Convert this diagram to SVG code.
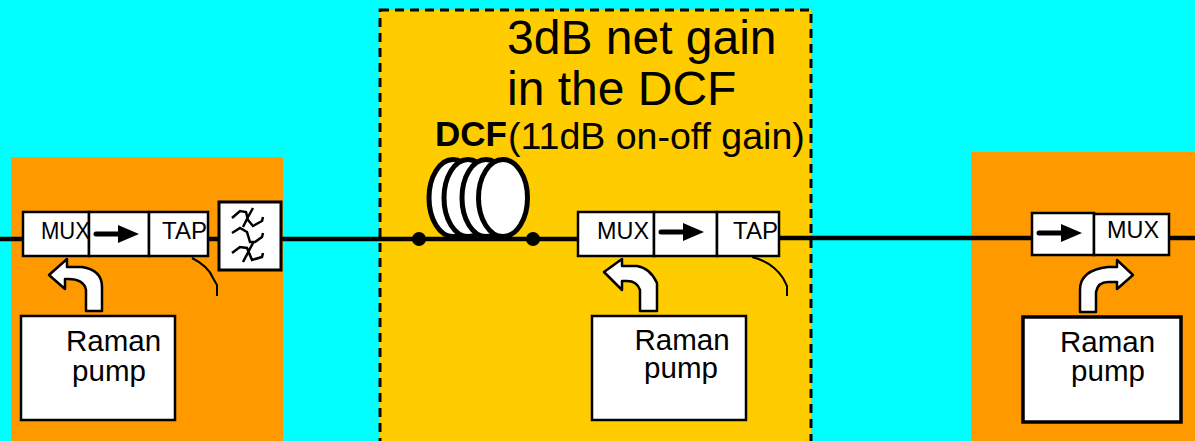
<svg xmlns="http://www.w3.org/2000/svg" width="1195" height="441" viewBox="0 0 1195 441">
<defs>
<g id="arrow"><path d="M0 0H24" fill="none" stroke="#000" stroke-width="5" stroke-linecap="round"/><path d="M22 -9 L43 0 L22 9 Z" fill="#000"/></g>
</defs>
<style>
text{font-family:"Liberation Sans",Arial,sans-serif;fill:#000}
.box{fill:#fff;stroke:#000;stroke-width:2.5}
.pump{fill:#fff;stroke:#000;stroke-width:2.5}
.bent{fill:#fff;stroke:#000;stroke-width:2.5;stroke-linejoin:round}
.lab{font-size:24px}
.pumpt{font-size:29.5px;text-anchor:middle}
.big{font-size:48px}
.thin{fill:none;stroke:#000;stroke-width:2}
</style>
<rect width="1195" height="441" fill="#00ffff"/>
<rect id="left-stage" x="11" y="157" width="272" height="284" fill="#ff9900"/>
<rect id="right-stage" x="971" y="152" width="224" height="289" fill="#ff9900"/>
<rect id="dcf-stage" x="380" y="10" width="431" height="440" fill="#ffcc00" stroke="#000" stroke-width="3" stroke-dasharray="9 6"/>
<g id="connectors" fill="none" stroke="#000" stroke-width="4.5">
<path d="M0 239H24"/><path d="M207 239H220"/><path d="M280 239H578"/>
<path d="M778 238H1032"/><path d="M1168 238H1195"/>
</g>
<g id="title"><text class="big" x="507" y="54">3dB net gain</text><text class="big" x="507" y="105">in the DCF</text></g>
<g id="dcf-label"><text x="435" y="146" font-size="35" font-weight="bold">DCF</text><text x="508" y="149" font-size="37.5">(11dB on-off gain)</text></g>
<g id="coil" fill="#fff" stroke="#000" stroke-width="5">
<ellipse cx="453" cy="198" rx="24" ry="38.500"/><ellipse cx="468" cy="198" rx="24" ry="38.500"/><ellipse cx="486" cy="198" rx="24" ry="38.500"/><ellipse cx="503" cy="198" rx="24.500" ry="38.500"/>
<circle cx="419" cy="239" r="7" fill="#000" stroke="none"/><circle cx="533" cy="239" r="7" fill="#000" stroke="none"/>
</g>
<g id="left-mux-iso-tap">
<rect class="box" x="23" y="212" width="66" height="44"/><rect class="box" x="89" y="212" width="60" height="44"/><rect class="box" x="149" y="212" width="59" height="44"/>
<text class="lab" x="41" y="239" textLength="49" lengthAdjust="spacingAndGlyphs">MUX</text><use href="#arrow" x="96" y="234"/><text class="lab" x="162" y="239" textLength="45" lengthAdjust="spacingAndGlyphs">TAP</text>
<path class="thin" d="M192 258 Q208 266 213 278 L217 285 L217 296"/>
</g>
<g id="filter">
<rect class="box" x="219" y="202" width="62" height="68" style="stroke-width:3"/>
<path d="M232 218 L240 211 L246 212 L248 220 L253 226 L262 221 L263 217 M253 208 L248 217 L243 227 M232 233 L240 228 L247 232 L250 242 L255 242 L262 237 L263 233 M232 253 L240 247 L247 248 L252 260 L262 257 L263 253 M253 243 L243 262" fill="none" stroke="#000" stroke-width="2.500"/>
</g>
<g id="mid-mux-iso-tap">
<rect class="box" x="578" y="212" width="76" height="44"/><rect class="box" x="654" y="212" width="63" height="44"/><rect class="box" x="717" y="212" width="62" height="44"/>
<text class="lab" x="597" y="239" textLength="52" lengthAdjust="spacingAndGlyphs">MUX</text><use href="#arrow" x="661" y="232"/><text class="lab" x="733" y="239" textLength="45" lengthAdjust="spacingAndGlyphs">TAP</text>
<path class="thin" d="M752 257 Q772 262 783 278 L787 286 L787 296"/>
</g>
<g id="right-iso-mux">
<rect class="box" x="1032" y="213" width="62" height="42"/><rect class="box" x="1094" y="214" width="75" height="41"/>
<text class="lab" x="1107" y="238" textLength="52" lengthAdjust="spacingAndGlyphs">MUX</text><use href="#arrow" x="1039" y="233"/>
</g>
<g id="left-bent"><path class="bent" d="M49 275 L67 259 L67 267 L82 267 Q102 270 102 287 L102 311 L86 311 L86 290 Q84 279 68 279 L65 279 L65 289 Z"/></g>
<g id="mid-bent"><path class="bent" d="M604 272 L622 259 L622 266 L637 266 Q650 268 657 283 L657 311 L640 311 L640 290 Q637 281 627 281 L622 281 L622 290 Z"/></g>
<g id="right-bent"><path class="bent" d="M1133 275 L1117 260 L1117 267 L1108 267 Q1080 270 1080 290 L1080 312 L1096 312 L1096 292 Q1098 282 1108 282 L1117 282 L1117 289 Z"/></g>
<g id="left-pump"><rect class="pump" x="21" y="316" width="154" height="104"/><text class="pumpt" x="113.500" y="351">Raman</text><text class="pumpt" x="109" y="381">pump</text></g>
<g id="mid-pump"><rect class="pump" x="592" y="316" width="154" height="104"/><text class="pumpt" x="682" y="350">Raman</text><text class="pumpt" x="681" y="378">pump</text></g>
<g id="right-pump"><rect class="pump" x="1023" y="317" width="158" height="105" style="stroke-width:3.5"/><text class="pumpt" x="1107.500" y="352">Raman</text><text class="pumpt" x="1108" y="381">pump</text></g>
</svg>
